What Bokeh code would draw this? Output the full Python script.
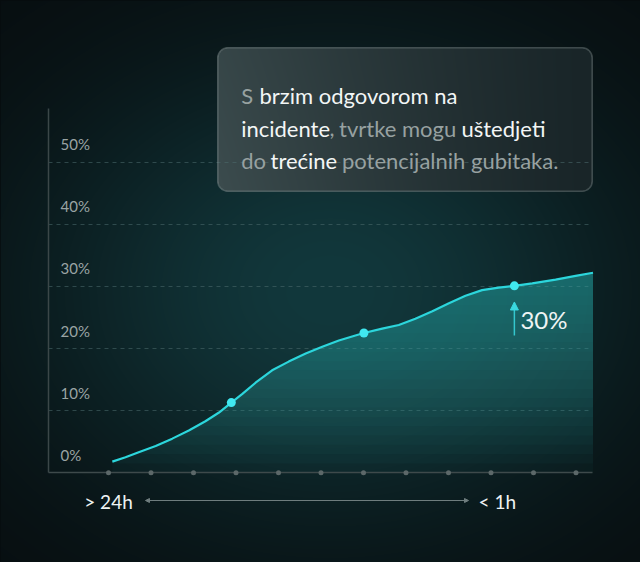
import numpy as np
from bokeh.plotting import figure
from bokeh.models import (Range1d, LinearAxis, FixedTicker, Grid, Label,
                          BoxAnnotation, Arrow, NormalHead)
from bokeh.embed import file_html
from bokeh.resources import INLINE

# ---------------- data ----------------
curve_x = [0.09, 0.40, 0.71, 1.11, 1.50, 1.89, 2.28, 2.60, 2.89, 3.15, 3.46, 3.85,
           4.24, 4.64, 5.03, 5.42, 5.81, 6.01, 6.44, 6.83, 7.22, 7.62, 8.01, 8.40,
           8.79, 9.18, 9.55, 9.97, 10.52, 10.99, 11.40]
curve_y = [1.8, 2.5, 3.3, 4.3, 5.5, 6.8, 8.3, 9.7, 11.3, 12.7, 14.5, 16.5,
           17.9, 19.2, 20.3, 21.3, 22.1, 22.5, 23.2, 23.8, 24.8, 26.0, 27.3, 28.5,
           29.4, 29.8, 30.1, 30.5, 31.1, 31.7, 32.2]
marker_x = [2.89, 6.01, 9.55]
marker_y = [11.3, 22.5, 30.1]
x_dots = list(range(12))
y_ticks = [0, 10, 20, 30, 40, 50]
y_tick_labels = ["0%", "10%", "20%", "30%", "40%", "50%"]
x_label_pos = [0, 9.15]
x_label_text = ["> 24h", "< 1h"]
highlight_text = "30%"
box_lines = [
    [("S", "gray"), ("brzim odgovorom na", "white")],
    [("incidente", "white"), (",", "gray"), ("tvrtke mogu", "gray"), ("uštedjeti", "white")],
    [("do", "gray"), ("trećine", "white"), ("potencijalnih gubitaka.", "gray")],
]

# ---------------- layout helpers (page pixel -> data) ----------------
PX0, PXS = 108.0, 42.5      # x pixel of dot 0, pixels per dot
PY0, PYS = 472.3, 6.212     # y pixel of 0%, pixels per 1%
def dx(X): return (X - PX0) / PXS
def dy(Y): return (PY0 - Y) / PYS

W, H = 640, 562
x0, x1 = dx(0), dx(W)
y0, y1 = dy(H), dy(0)

EDGE = "#070c0e"
p = figure(width=W, height=H, x_range=Range1d(x0, x1), y_range=Range1d(y0, y1),
           output_backend="svg", toolbar_location=None,
           x_axis_location=None, y_axis_location=None, min_border=0,
           outline_line_color=None, background_fill_color=EDGE,
           border_fill_color=EDGE)
for g in p.grid:
    g.visible = False

# ---------------- background (radial glow + text panel fill) ----------------
XX, YY = np.meshgrid(np.arange(W) + 0.5, np.arange(H) + 0.5)
g = np.exp(-((XX - 330) / 300) ** 2 - ((YY - 290) / 235) ** 2)
edge = np.array([7, 12, 14.0]); center = np.array([18, 56, 60.0])
rgb = edge + (center - edge) * g[..., None]
bx0, by0, bx1, by1, rr = 217.3, 47.3, 591.7, 190.7, 10
qx = np.clip(XX, bx0 + rr, bx1 - rr); qy = np.clip(YY, by0 + rr, by1 - rr)
inside = ((XX - qx) ** 2 + (YY - qy) ** 2 <= rr * rr) & (XX >= bx0) & (XX <= bx1) & (YY >= by0) & (YY <= by1)
u = np.clip((XX - bx0) / (bx1 - bx0), 0, 1); v = np.clip((YY - by0) / (by1 - by0), 0, 1)
left_c = np.array([60, 76, 78.0]); right_c = np.array([25, 37, 40.0])
w = (1 - u) ** 1.2 * (0.85 + 0.15 * v)
boxc = right_c + (left_c - right_c) * w[..., None]
rgb[inside] = boxc[inside]
img = np.empty((H, W), dtype=np.uint32)
view = img.view(dtype=np.uint8).reshape((H, W, 4))
view[..., :3] = np.clip(rgb, 0, 255).astype(np.uint8)
view[..., 3] = 255
img = np.ascontiguousarray(img[::-1])
p.image_rgba(image=[img], x=x0, y=y0, dw=x1 - x0, dh=y1 - y0, level="image")

# ---------------- grid ----------------
grid = Grid(dimension=1, ticker=FixedTicker(ticks=y_ticks[1:]),
            cross_bounds=(dx(48), dx(592)),
            grid_line_color="#4d6b6d", grid_line_alpha=0.55,
            grid_line_dash="4 4", grid_line_width=1)
p.add_layout(grid, "center")

# ---------------- area fill (layered for a vertical gradient) ----------------
cx = np.array(curve_x); cy = np.array(curve_y)
for t in np.arange(0, 32, 1.5):
    p.varea(x=cx, y1=np.minimum(t, cy), y2=cy, fill_color="#2a9a9e", fill_alpha=0.045)

p.line(cx, cy, line_color="#2cd6dc", line_width=2.2)
p.scatter(marker_x, marker_y, size=9, fill_color="#40e8f0", line_color=None)

# ---------------- axes ----------------
yaxis = LinearAxis(fixed_location=dx(48), bounds=(0, dy(108)),
                   ticker=FixedTicker(ticks=[]), axis_line_color="#3b4748",
                   axis_line_width=1.5, major_tick_line_color=None,
                   minor_tick_line_color=None, major_label_text_font_size="0px")
p.add_layout(yaxis, "left")

p.extra_y_ranges = {"lab": Range1d(y0 - 2.9, y1 - 2.9)}
lab_axis = LinearAxis(y_range_name="lab", fixed_location=dx(48),
                      ticker=FixedTicker(ticks=y_ticks),
                      major_label_overrides={t: s for t, s in zip(y_ticks, y_tick_labels)},
                      axis_line_color=None, major_tick_line_color=None,
                      minor_tick_line_color=None, major_tick_in=0, major_tick_out=0,
                      major_label_standoff=12, major_label_text_font="Lato",
                      major_label_text_font_size="15px",
                      major_label_text_color="#9aa4a4")
p.add_layout(lab_axis, "right")

xaxis = LinearAxis(fixed_location=0, bounds=(dx(48), dx(592)),
                   ticker=FixedTicker(ticks=x_label_pos),
                   major_label_overrides={t: s for t, s in zip(x_label_pos, x_label_text)},
                   axis_line_color="#3e4a4b", axis_line_width=1.5,
                   major_tick_line_color=None, minor_tick_line_color=None,
                   major_tick_in=0, major_tick_out=0, major_label_standoff=17,
                   major_label_text_font="Lato", major_label_text_font_size="19px",
                   major_label_text_color="#eef3f3")
p.add_layout(xaxis, "below")

p.scatter(x_dots, [0] * len(x_dots), size=5, fill_color="#5c6869",
          line_color=None, level="overlay")

# range arrow between the x labels
p.add_layout(Arrow(start=NormalHead(size=4, fill_color="#6f7d7e", line_color="#6f7d7e"),
                   end=NormalHead(size=4, fill_color="#6f7d7e", line_color="#6f7d7e"),
                   x_start=dx(145), y_start=dy(500), x_end=dx(468), y_end=dy(500),
                   line_color="#6f7d7e", line_width=1))

# highlight arrow + label at the last marker
CYAN = "#3ad9e0"
p.add_layout(Arrow(end=NormalHead(size=8, fill_color=CYAN, line_color=CYAN),
                   x_start=marker_x[2], y_start=marker_y[2] - 8.0,
                   x_end=marker_x[2], y_end=marker_y[2] - 2.6,
                   line_color=CYAN, line_width=1.5, line_alpha=0.85))
p.add_layout(Label(x=marker_x[2], y=marker_y[2] - 5.5, x_offset=6, text=highlight_text,
                   text_baseline="middle", text_font="Lato", text_font_size="24px",
                   text_color="#eef4f4"))

# ---------------- text panel ----------------
p.add_layout(BoxAnnotation(left=dx(bx0), right=dx(bx1), top=dy(by0), bottom=dy(by1),
                           fill_color=None, fill_alpha=0, line_color="#aab4b4",
                           line_width=1.6, border_radius=10, level="overlay"))
seg_x = [[240.7, 259.0], [240.7, 329.0, 338.5, 461.0], [240.7, 270.0, 341.5]]
line_base = [95, 128, 160]
colors = {"white": "#f3f6f6", "gray": "#97a1a1"}
for segs, xs, base in zip(box_lines, seg_x, line_base):
    for (txt, col), X in zip(segs, xs):
        p.add_layout(Label(x=dx(X), y=dy(base), text=txt, text_font="Lato",
                           text_font_size="22px", text_color=colors[col],
                           text_baseline="alphabetic", text_align="left"))

html = file_html(p, INLINE, title="chart")
html = html.replace("</head>", "<style>html,body{background:#070c0e;}</style></head>", 1)
open("out.html", "w").write(html)
